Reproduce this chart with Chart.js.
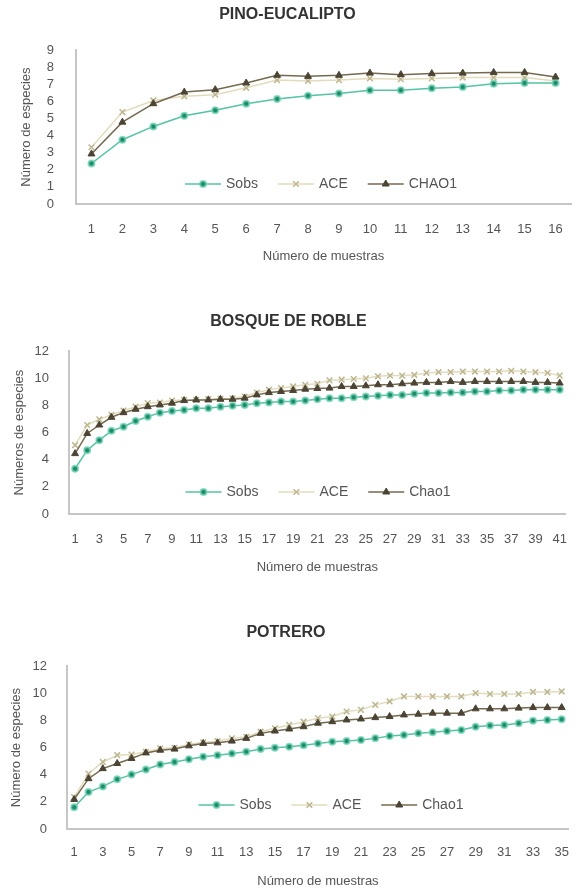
<!DOCTYPE html>
<html>
<head>
<meta charset="utf-8">
<script src="https://cdn.jsdelivr.net/npm/chart.js@4.4.1/dist/chart.umd.min.js"></script>
<style>
  html, body { margin: 0; padding: 0; background: #fff; }
  #wrap { position: relative; width: 577px; height: 891px; }
  .box { position: absolute; left: 0; width: 577px; }
</style>
</head>
<body>
<div id="wrap">
  <div class="box" style="top:0;height:272px"><canvas id="pino"></canvas></div>
  <div class="box" style="top:272px;height:310px"><canvas id="roble"></canvas></div>
  <div class="box" style="top:582px;height:309px"><canvas id="potrero"></canvas></div>
</div>
<script>
// Species accumulation curves (Sobs, ACE, Chao1) for three land uses.
// Values.

const pinoSamples = ["1","2","3","4","5","6","7","8","9","10","11","12","13","14","15","16"];
const pinoSobs  = [2.37, 3.76, 4.54, 5.16, 5.48, 5.87, 6.14, 6.33, 6.46, 6.65, 6.65, 6.78, 6.84, 7.04, 7.08, 7.08];
const pinoAce   = [3.32, 5.38, 6.06, 6.3, 6.4, 6.8, 7.25, 7.2, 7.25, 7.35, 7.3, 7.35, 7.4, 7.4, 7.4, 7.2];
const pinoChao1 = [2.93, 4.79, 5.87, 6.55, 6.69, 7.08, 7.53, 7.47, 7.53, 7.66, 7.57, 7.63, 7.66, 7.7, 7.7, 7.43];

const robleSamples = ["1","2","3","4","5","6","7","8","9","10","11","12","13","14","15","16","17","18","19","20",
  "21","22","23","24","25","26","27","28","29","30","31","32","33","34","35","36","37","38","39","40","41"];
const robleSobs  = [3.34, 4.7, 5.44, 6.13, 6.43, 6.85, 7.17, 7.47, 7.59, 7.67, 7.8, 7.8, 7.91, 7.97, 8.04, 8.17, 8.21, 8.29, 8.29, 8.36,
  8.46, 8.54, 8.54, 8.61, 8.66, 8.71, 8.78, 8.78, 8.86, 8.91, 8.91, 8.95, 8.95, 9.03, 9.03, 9.1, 9.1, 9.15, 9.15, 9.15, 9.15];
const robleAce   = [5.07, 6.56, 6.98, 7.3, 7.62, 7.91, 8.17, 8.21, 8.36, 8.41, 8.41, 8.46, 8.49, 8.52, 8.66, 8.95, 9.15, 9.28, 9.4, 9.52,
  9.6, 9.85, 9.9, 9.95, 10.0, 10.15, 10.2, 10.2, 10.25, 10.4, 10.45, 10.45, 10.5, 10.5, 10.5, 10.5, 10.55, 10.5, 10.45, 10.4, 10.2];
const robleChao1 = [4.45, 5.94, 6.56, 7.13, 7.47, 7.72, 7.91, 8.04, 8.17, 8.36, 8.41, 8.41, 8.46, 8.46, 8.54, 8.78, 8.95, 9.03, 9.1, 9.2,
  9.25, 9.28, 9.4, 9.4, 9.45, 9.53, 9.53, 9.6, 9.65, 9.7, 9.7, 9.77, 9.7, 9.77, 9.77, 9.77, 9.77, 9.77, 9.7, 9.7, 9.65];

const potreroSamples = ["1","2","3","4","5","6","7","8","9","10","11","12","13","14","15","16","17","18",
  "19","20","21","22","23","24","25","26","27","28","29","30","31","32","33","34","35"];
const potreroSobs  = [1.6, 2.72, 3.14, 3.66, 4.01, 4.38, 4.75, 4.94, 5.14, 5.32, 5.44, 5.57, 5.69, 5.89, 5.98, 6.06, 6.18, 6.31,
  6.43, 6.48, 6.56, 6.68, 6.85, 6.93, 7.05, 7.13, 7.22, 7.3, 7.54, 7.62, 7.67, 7.8, 7.97, 8.04, 8.09];
const potreroAce   = [2.35, 4.08, 4.94, 5.44, 5.49, 5.69, 5.94, 5.98, 6.24, 6.38, 6.48, 6.68, 6.8, 7.17, 7.42, 7.67, 7.91, 8.17,
  8.29, 8.66, 8.78, 9.15, 9.4, 9.77, 9.77, 9.77, 9.77, 9.77, 10.02, 9.95, 9.95, 9.95, 10.1, 10.1, 10.14];
const potreroChao1 = [2.18, 3.71, 4.45, 4.83, 5.2, 5.61, 5.81, 5.89, 6.13, 6.31, 6.35, 6.48, 6.68, 7.05, 7.22, 7.37, 7.54, 7.8,
  7.91, 8.04, 8.11, 8.21, 8.29, 8.41, 8.46, 8.54, 8.54, 8.54, 8.86, 8.86, 8.86, 8.91, 8.95, 8.95, 8.95];

const FONT = "'Liberation Sans', Arial, sans-serif";
const AXIS = "#c6c6c6";
const TEXT = "#555";

// Legend drawn inside the plot area, like the Excel original.
const insideLegend = {
  id: "insideLegend",
  afterDatasetsDraw(chart, args, o) {
    const ctx = chart.ctx;
    ctx.save();
    ctx.font = `14px ${FONT}`;
    ctx.textBaseline = "middle";
    const line = 36, gap = 5, sep = 20;
    const items = chart.data.datasets.map((d) => ({ d, w: ctx.measureText(d.label).width }));
    const total = items.reduce((s, it) => s + line + gap + it.w, 0) + sep * (items.length - 1);
    let x = o.cx - total / 2;
    items.forEach(({ d, w }) => {
      ctx.strokeStyle = d.borderColor;
      ctx.lineWidth = d.borderWidth;
      ctx.beginPath(); ctx.moveTo(x, o.y); ctx.lineTo(x + line, o.y); ctx.stroke();
      ctx.fillStyle = d.pointBackgroundColor;
      ctx.strokeStyle = d.pointBorderColor;
      ctx.lineWidth = d.pointBorderWidth;
      Chart.helpers.drawPoint(ctx, { pointStyle: d.pointStyle, radius: d.pointRadius, rotation: 0, borderWidth: d.pointBorderWidth }, x + line / 2, o.y);
      ctx.fillStyle = TEXT;
      ctx.fillText(d.label, x + line + gap, o.y);
      x += line + gap + w + sep;
    });
    ctx.restore();
  },
};

function series(label, data, kind) {
  const st = {
    sobs:  { borderColor: "#56c3a4", pointStyle: "circle", pointRadius: 3, pointBackgroundColor: "#1f8a68", pointBorderColor: "rgba(110,210,180,0.75)", pointBorderWidth: 2, order: 1 },
    ace:   { borderColor: "#e2dcbd", pointStyle: "crossRot", pointRadius: 4, pointBackgroundColor: "#bdb691", pointBorderColor: "#bdb691", pointBorderWidth: 1.5, order: 2 },
    chao:  { borderColor: "#75694f", pointStyle: "triangle", pointRadius: 4, pointBackgroundColor: "#4b4434", pointBorderColor: "#4b4434", pointBorderWidth: 1, order: 0 },
  }[kind];
  return { label, data, borderWidth: 1.5, tension: 0, ...st };
}

function makeChart(id, cfg) {
  new Chart(document.getElementById(id), {
    type: "line",
    data: { labels: cfg.labels, datasets: cfg.datasets },
    options: {
      responsive: true,
      maintainAspectRatio: false,
      animation: false,
      layout: { padding: { left: 0, right: cfg.right, top: 0, bottom: 0 } },
      plugins: {
        legend: { display: false },
        tooltip: { enabled: false },
        title: {
          display: true, text: cfg.title, color: "#333",
          font: { family: FONT, size: 16, weight: "bold" },
          padding: { top: cfg.titleTop, bottom: cfg.titleBottom },
        },
        insideLegend: cfg.legend,
      },
      scales: {
        x: {
          offset: true,
          grid: { display: false },
          border: { color: AXIS, width: 2 },
          ticks: {
            color: TEXT, font: { family: FONT, size: 13 }, padding: cfg.xPad,
            autoSkip: false, maxRotation: 0,
            callback: (v, i) => (i % cfg.every === 0 ? cfg.labels[i] : ""),
          },
          title: { display: true, text: "Número de muestras", color: TEXT, font: { family: FONT, size: 13 }, padding: { top: 0, bottom: cfg.xTitlePad } },
          afterFit: (s) => { s.height = cfg.xHeight; },
        },
        y: {
          min: 0, max: cfg.max,
          grid: { display: false },
          border: { color: AXIS, width: 2 },
          ticks: { stepSize: cfg.step, autoSkip: false, color: TEXT, font: { family: FONT, size: 13 }, padding: cfg.yPad },
          title: { display: true, text: cfg.yTitle, color: TEXT, font: { family: FONT, size: 13 }, padding: { top: cfg.yTitlePad, bottom: 0 } },
          afterFit: (s) => { s.width = cfg.axisX; },
        },
      },
    },
    plugins: [insideLegend],
  });
}

makeChart("pino", {
  title: "PINO-EUCALIPTO", labels: pinoSamples,
  datasets: [series("Sobs", pinoSobs, "sobs"), series("ACE", pinoAce, "ace"), series("CHAO1", pinoChao1, "chao")],
  max: 9, step: 1, every: 1, yTitle: "Número de especies",
  axisX: 76, right: 2, titleTop: 5, titleBottom: 26, xHeight: 68, xPad: 10, xTitlePad: 8, yPad: 14, yTitlePad: 19,
  legend: { cx: 321, y: 184 },
});

makeChart("roble", {
  title: "BOSQUE DE ROBLE", labels: robleSamples,
  datasets: [series("Sobs", robleSobs, "sobs"), series("ACE", robleAce, "ace"), series("Chao1", robleChao1, "chao")],
  max: 12, step: 2, every: 2, yTitle: "Números de especies",
  axisX: 69, right: 0, titleTop: 40, titleBottom: 20, xHeight: 68, xPad: 10, xTitlePad: 7, yPad: 12, yTitlePad: 12,
  legend: { cx: 318, y: 220 },
});

makeChart("potrero", {
  title: "POTRERO", labels: potreroSamples,
  datasets: [series("Sobs", potreroSobs, "sobs"), series("ACE", potreroAce, "ace"), series("Chao1", potreroChao1, "chao")],
  max: 12, step: 2, every: 2, yTitle: "Número de especies",
  axisX: 67, right: 5, titleTop: 41, titleBottom: 24, xHeight: 62, xPad: 8, xTitlePad: 2, yPad: 12, yTitlePad: 9,
  legend: { cx: 331, y: 223 },
});
</script>
</body>
</html>
